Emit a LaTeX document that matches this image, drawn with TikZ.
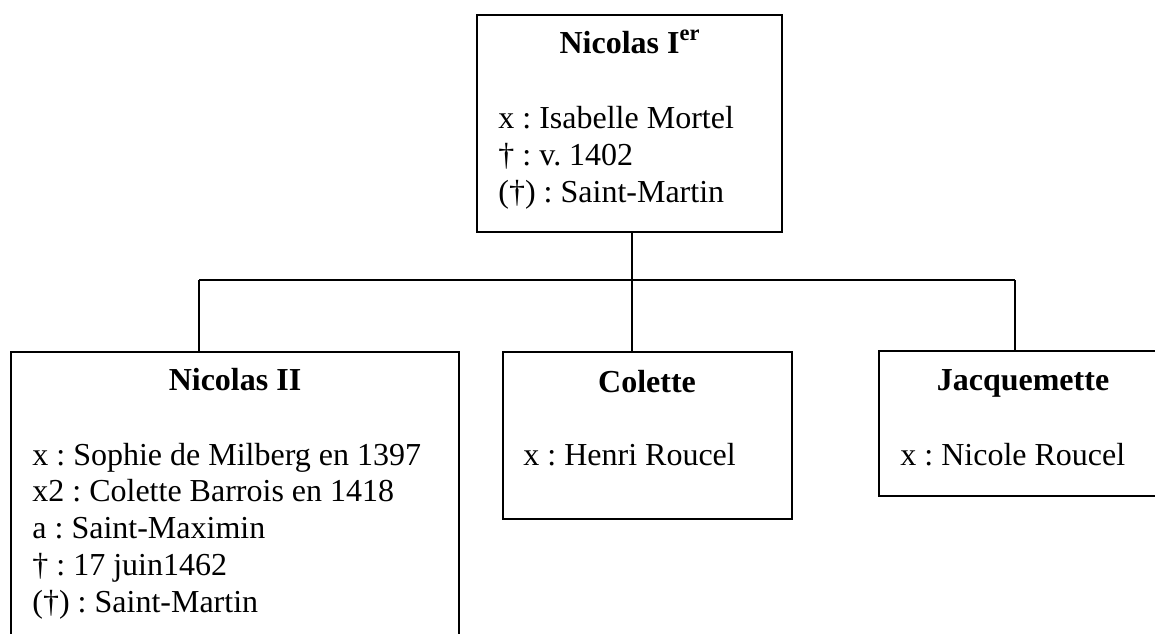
\documentclass[tikz,border=0pt]{standalone}
\usepackage{fontspec}
\setmainfont{Liberation Serif}
\frenchspacing
\begin{document}
\begin{tikzpicture}[x=0.5pt,y=-0.5pt,
  box/.style={draw, line width=1pt, rectangle, anchor=north west, inner sep=0pt, outer sep=0pt},
  head/.style={anchor=base, inner sep=0pt, font=\fontsize{16pt}{18pt}\selectfont\bfseries\frenchspacing},
  body/.style={anchor=base west, inner sep=0pt, font=\fontsize{16pt}{18pt}\selectfont\frenchspacing},
  link/.style={line width=1pt}]
\clip (0,0) rectangle (1155,633);
\useasboundingbox (0,0) rectangle (1155,633);
% boxes
\node[box, minimum width=152.5pt, minimum height=108.5pt] (top) at (477,15) {};
\node[box, minimum width=224pt, minimum height=180pt] (nic) at (11,352) {};
\node[box, minimum width=144.5pt, minimum height=83.5pt] (col) at (503,352) {};
\node[box, minimum width=150pt, minimum height=72.5pt] (jac) at (879,351) {};
% texts
\node[head] (topH) at (630,53) {Nicolas I\textsuperscript{er}};
\node[body] (topA) at (498,128) {x : Isabelle Mortel};
\node[body] (topB) at (498,165) {† : v. 1402};
\node[body] (topC) at (498,202) {(†) : Saint-Martin};
\node[head] (nicH) at (235,390) {Nicolas II};
\node[body] (nicA) at (32,465) {x : Sophie de Milberg en 1397};
\node[body] (nicB) at (32,501) {x2 : Colette Barrois en 1418};
\node[body] (nicC) at (32,538) {a : Saint-Maximin};
\node[body] (nicD) at (32,575) {† : 17 juin1462};
\node[body] (nicE) at (32,612) {(†) : Saint-Martin};
\node[head] (colH) at (647,392) {Colette};
\node[body] (colA) at (523,465) {x : Henri Roucel};
\node[head] (jacH) at (1023,390) {Jacquemette};
\node[body] (jacA) at (900,465) {x : Nicole Roucel};
% connectors
\coordinate (jm) at (632,280);
\coordinate (jl) at (199,280);
\coordinate (jr) at (1015,280);
\draw[link] (top.south -| jm) -- (jm);
\draw[link] (jl) -- (jr);
\draw[link] (jl) -- (jl |- nic.north);
\draw[link] (jm) -- (jm |- col.north);
\draw[link] (jr) -- (jr |- jac.north);
\end{tikzpicture}
\end{document}
